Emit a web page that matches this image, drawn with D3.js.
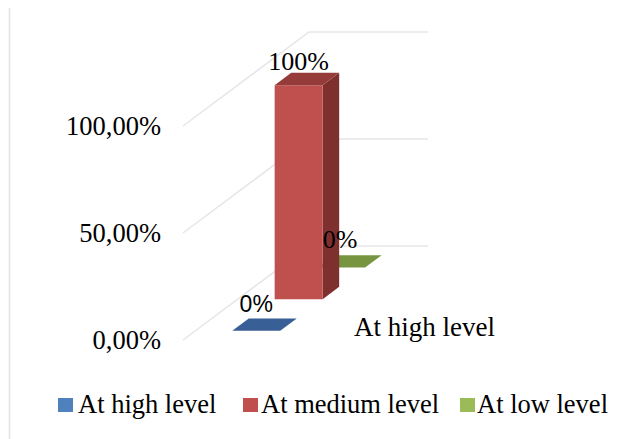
<!DOCTYPE html>
<html>
<head>
<meta charset="utf-8">
<script src="https://cdn.jsdelivr.net/npm/d3@7"></script>
<style>
  html, body { margin: 0; padding: 0; background: #fff; }
  svg { display: block; }
  text { font-family: "Liberation Serif", "Times New Roman", serif; fill: #000; }
</style>
</head>
<body>
<svg id="chart" width="630" height="439"></svg>
<script>
// Chart data
const categories = ["At high level"];
const seriesNames = ["At high level", "At medium level", "At low level"];
const seriesValues = [0, 1, 0];
const valueLabels = ["0%", "100%", "0%"];
const axisTicks = [0, 0.5, 1];
const axisTickLabels = ["0,00%", "50,00%", "100,00%"];

// Per-series styling: front, top and side faces, plus legend swatch
const faceFront = ["#4f81bd", "#c0504d", "#9bbb59"];
const faceTop = ["#386096", "#953b39", "#779440"];
const faceSide = ["#2f5280", "#7e302e", "#64802f"];
const labelFonts = ['"Liberation Sans", Arial, sans-serif', '"Liberation Serif", serif', '"Liberation Serif", serif'];
const labelSizes = [23, 26, 26];
const labelLift = [6, 3, 7];
const labelShift = [0, 0, -1];

const svg = d3.select("#chart");

// Oblique 3D projection: depth 0 is the front of the floor, depth 1 the back wall
const depthDx = 126, depthDy = -94;
const x = d3.scaleBand().domain(categories).range([183, 302]).paddingInner(0).paddingOuter(0.74).align(0.52);
const y = d3.scaleLinear().domain([0, 1]).range([340, 126]);
const depth = d3.scaleBand().domain(seriesNames).range([0, 1]).paddingInner(0.61).paddingOuter(0.29);
const sx = (px, d) => px + d * depthDx;
const sy = (v, d) => y(v) + d * depthDy;
const line = d3.line();

// Left frame rule
svg.append("line").attr("x1", 9.5).attr("x2", 9.5).attr("y1", 8).attr("y2", 439)
  .attr("stroke", "#e2e2e2").attr("stroke-width", 1.5);

// Gridlines along the side wall and the back wall
axisTicks.forEach(t => {
  svg.append("path")
    .attr("d", line([
      [sx(x.range()[0], 0), sy(t, 0)],
      [sx(x.range()[0], 1), sy(t, 1)],
      [sx(x.range()[1], 1), sy(t, 1)]
    ]))
    .attr("fill", "none").attr("stroke", "#e6e6ea").attr("stroke-width", 1.5);
});

// Value axis labels
svg.append("g").selectAll("text").data(axisTicks).join("text")
  .attr("x", 161)
  .attr("y", t => y(t) + 9)
  .attr("text-anchor", "end")
  .attr("font-size", 26.5)
  .text((t, i) => axisTickLabels[i]);

// Bars, painted from the back series to the front one
const order = d3.range(seriesNames.length).reverse();
order.forEach(i => {
  const name = seriesNames[i], v = seriesValues[i];
  const x0 = x(categories[0]), x1 = x0 + x.bandwidth();
  const d0 = depth(name), d1 = d0 + depth.bandwidth();
  const g = svg.append("g");
  if (v > 0) {
    g.append("path").attr("fill", faceSide[i]).attr("d", line([
      [sx(x1, d0), sy(0, d0)], [sx(x1, d1), sy(0, d1)],
      [sx(x1, d1), sy(v, d1)], [sx(x1, d0), sy(v, d0)]
    ]) + "Z");
    g.append("path").attr("fill", faceFront[i]).attr("d", line([
      [sx(x0, d0), sy(0, d0)], [sx(x1, d0), sy(0, d0)],
      [sx(x1, d0), sy(v, d0)], [sx(x0, d0), sy(v, d0)]
    ]) + "Z");
  }
  g.append("path").attr("fill", faceTop[i]).attr("d", line([
    [sx(x0, d0), sy(v, d0)], [sx(x1, d0), sy(v, d0)],
    [sx(x1, d1), sy(v, d1)], [sx(x0, d1), sy(v, d1)]
  ]) + "Z");
});

// Value labels above each bar
seriesNames.forEach((name, i) => {
  const d0 = depth(name), d1 = d0 + depth.bandwidth();
  svg.append("text")
    .attr("x", sx(x(categories[0]) + x.bandwidth() / 2, d0) + labelShift[i])
    .attr("y", sy(seriesValues[i], d1) - labelLift[i])
    .attr("text-anchor", "middle")
    .attr("font-size", labelSizes[i])
    .style("font-family", labelFonts[i])
    .text(valueLabels[i]);
});

// Category label on the floor
svg.append("text").attr("x", 354).attr("y", 336).attr("font-size", 27).text(categories[0]);

// Legend
const legendX = [58, 243, 460];
const legendTextX = [78, 261, 477];
const legend = svg.append("g").selectAll("g").data(seriesNames).join("g");
legend.append("rect").attr("x", (d, i) => legendX[i]).attr("y", 398)
  .attr("width", 15).attr("height", 14).attr("fill", (d, i) => faceFront[i]);
legend.append("text").attr("x", (d, i) => legendTextX[i]).attr("y", 413)
  .attr("font-size", 26.5).text(d => d);
</script>
</body>
</html>
